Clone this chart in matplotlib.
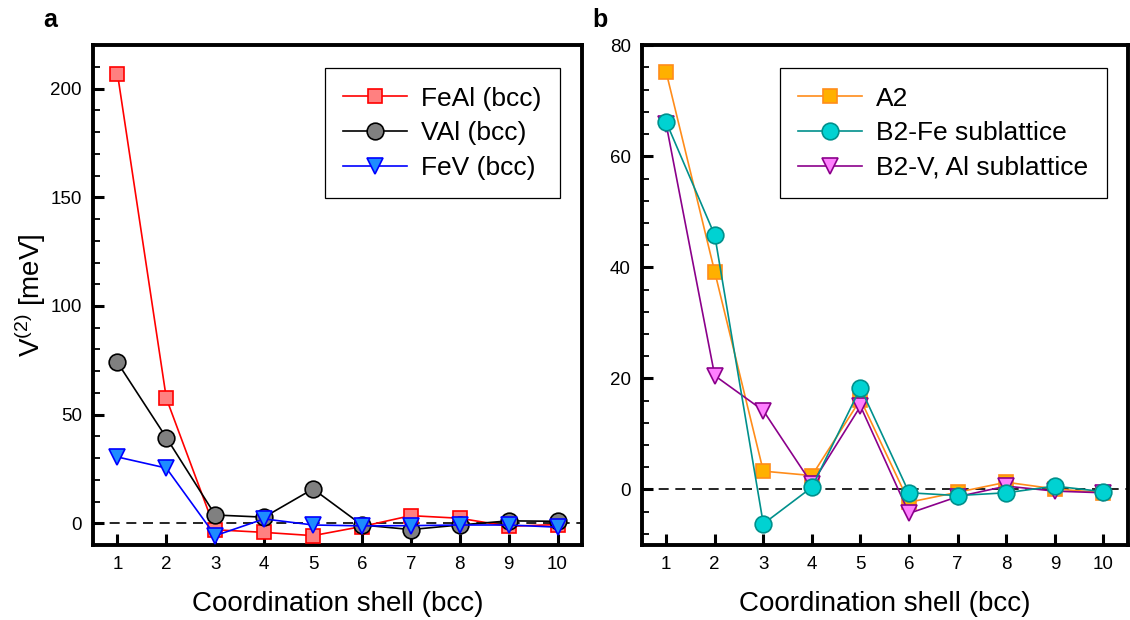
import numpy as np
import matplotlib
matplotlib.use('Agg')
import matplotlib.pyplot as plt
from matplotlib.ticker import MultipleLocator

plt.rcParams['font.family'] = ['Liberation Sans', 'DejaVu Sans']
plt.rcParams['mathtext.fontset'] = 'custom'
plt.rcParams['mathtext.rm'] = 'Liberation Sans'

shells = np.arange(1, 11)

# panel a
feal = [207, 57.5, -3, -4.2, -5.7, -1.5, 3.5, 2.3, -1.4, -0.6]
val = [74, 39.4, 3.8, 2.8, 15.8, -0.8, -2.9, -0.8, 1.1, 0.9]
fev = [30.5, 25.4, -5.7, 2.0, -0.8, -1.2, -1.1, -0.8, -0.8, -1.8]

# panel b
a2 = [75.2, 39.2, 3.3, 2.5, 16.2, -2.3, -0.5, 1.3, 0.1, -0.6]
b2_fe = [66.2, 45.8, -6.2, 0.4, 18.3, -0.6, -1.1, -0.6, 0.6, -0.4]
b2_val = [65.8, 20.5, 14.2, 1.0, 15.0, -4.3, -1.3, 0.6, -0.3, -0.6]


def style_axes(ax):
    for s in ax.spines.values():
        s.set_linewidth(2.8)
    ax.tick_params(axis='both', which='major', direction='in', length=8,
                   width=2.2, labelsize=13.5, top=False, right=False, pad=8)
    ax.tick_params(axis='both', which='minor', direction='in', length=5,
                   width=1.3, top=False, right=False)
    ax.set_xlim(0.5, 10.5)
    ax.set_xticks(shells)
    ax.axhline(0, color='black', ls=(0, (6, 4)), lw=1.2, zorder=1)
    ax.set_xlabel('Coordination shell (bcc)', fontsize=20, labelpad=13)


def add_legend(ax, x):
    leg = ax.legend(loc='upper right', fontsize=19, fancybox=False,
                    edgecolor='black', framealpha=1, handlelength=2.4,
                    handletextpad=0.55, borderpad=0.7, labelspacing=0.4,
                    borderaxespad=0, bbox_to_anchor=(x, 0.954))
    leg.get_frame().set_linewidth(0.9)


fig = plt.figure(figsize=(11.3, 6.2), dpi=100)
ax1 = fig.add_axes([0.0823, 0.121, 0.4327, 0.806])
ax2 = fig.add_axes([0.568, 0.121, 0.430, 0.806])

ax1.plot(shells, feal, '-s', color='#ff0000', mfc='#ff8080', mec='#ff0000',
         ms=10.5, lw=1.2, mew=1.2, label='FeAl (bcc)', zorder=3)
ax1.plot(shells, val, '-o', color='black', mfc='#808080', mec='black',
         ms=12, lw=1.2, mew=1.2, label='VAl (bcc)', zorder=3)
ax1.plot(shells, fev, '-v', color='#0000ff', mfc='#1e8cff', mec='#0000ff',
         ms=12, lw=1.2, mew=1.2, label='FeV (bcc)', zorder=4)
style_axes(ax1)
ax1.set_ylim(-10, 220)
ax1.yaxis.set_major_locator(MultipleLocator(50))
ax1.yaxis.set_minor_locator(MultipleLocator(10))
ax1.set_ylabel('V$^{(2)}$ [meV]', fontsize=20, labelpad=2)
add_legend(ax1, 0.955)

ax2.plot(shells, a2, '-s', color='#ff8c1a', mfc='#ffb000', mec='#ff8c1a',
         ms=10.5, lw=1.2, mew=1.2, label='A2', zorder=3)
ax2.plot(shells, b2_fe, '-o', color='#00908c', mfc='#00d2d2', mec='#00908c',
         ms=12, lw=1.2, mew=1.2, label='B2-Fe sublattice', zorder=4)
ax2.plot(shells, b2_val, '-v', color='#8b008b', mfc='#ff80ff', mec='#8b008b',
         ms=12, lw=1.2, mew=1.2, label='B2-V, Al sublattice', zorder=3)
style_axes(ax2)
ax2.set_ylim(-10, 80)
ax2.yaxis.set_major_locator(MultipleLocator(20))
ax2.yaxis.set_minor_locator(MultipleLocator(4))
add_legend(ax2, 0.957)

fig.text(0.038, 0.967, 'a', fontsize=18, fontweight='bold', va='center')
fig.text(0.524, 0.967, 'b', fontsize=18, fontweight='bold', va='center')

fig.savefig('out.png', dpi=100)
